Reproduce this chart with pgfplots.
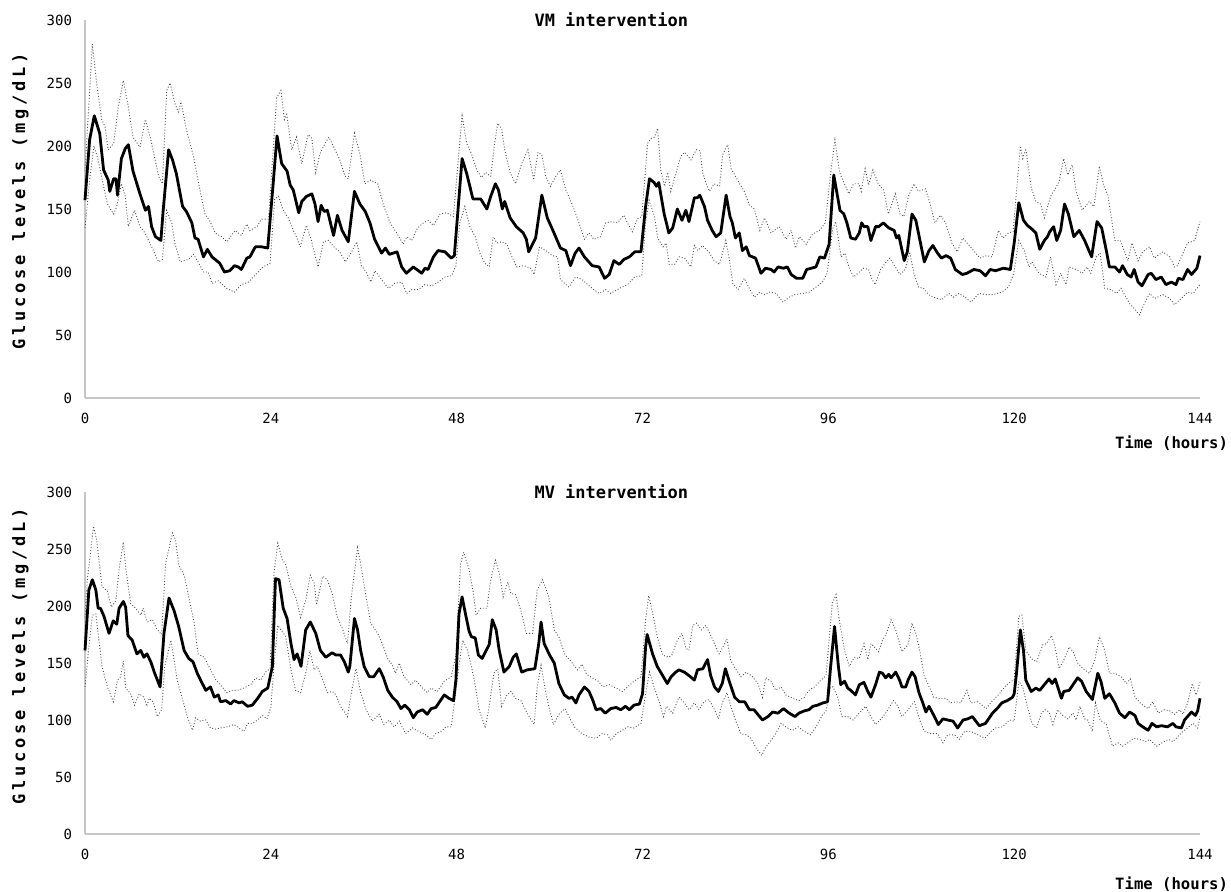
\documentclass[border=0pt]{standalone}
\usepackage{fontspec}
\setmainfont{DejaVu Sans Mono}
\usepackage{pgfplots}
\pgfplotsset{compat=1.18}
\usepackage{pgfplotstable}

% VM intervention: mean and the two bounds
\pgfplotstableread{
t g
0 157
0.6 205
1.2 224
1.9 210
2.4 181
3.0 173
3.2 164
3.7 174
4.0 174
4.2 161
4.7 190
5.2 198
5.6 201
6.2 180
7.1 162
7.8 149
8.2 152
8.6 136
9.1 128
9.8 125
10.1 149
10.8 197
11.3 189
11.8 178
12.6 152
13.1 148
13.8 139
14.2 127
14.6 126
15.3 112
15.8 118
16.4 112
17.4 107
18.0 100
18.7 101
19.3 105
19.8 104
20.2 102
20.9 111
21.3 112
22.0 120
22.8 120
23.6 119
24.3 170
24.8 208
25.4 186
26.1 180
26.5 169
26.9 165
27.6 147
28.0 156
28.6 160
29.3 162
29.7 154
30.1 140
30.5 153
30.9 148
31.3 149
32.1 129
32.6 145
33.2 133
34.0 124
34.8 164
35.5 154
36.2 148
36.8 139
37.4 126
38.3 115
38.8 119
39.3 114
40.3 116
40.9 104
41.5 99
42.4 104
43.5 99
43.9 103
44.3 102
45.0 112
45.6 117
46.5 116
47.3 111
47.7 113
48.7 190
49.3 178
50.1 158
51.1 158
51.9 150
52.4 160
53.0 170
53.4 165
53.9 150
54.2 156
54.9 143
55.7 136
56.6 131
57.0 126
57.3 116
58.2 127
59.0 161
59.7 143
60.5 132
61.4 119
62.1 117
62.7 105
63.3 115
63.8 119
64.5 112
65.5 105
66.4 104
67.1 95
67.7 98
68.3 109
69.0 106
69.6 110
70.3 112
71.0 116
71.8 116
72.4 152
72.9 174
73.5 171
73.8 168
74.1 171
74.8 146
75.4 131
75.9 135
76.5 150
77.1 141
77.6 149
78.0 140
78.7 159
79.1 159
79.4 161
80.0 152
80.4 141
81.0 133
81.5 128
82.1 131
82.8 161
83.3 144
83.6 139
84.0 127
84.5 131
84.9 117
85.4 120
85.8 113
86.6 111
87.3 99
87.9 103
88.6 102
89.0 100
89.5 104
90.2 103
90.7 104
91.2 98
91.9 95
92.7 95
93.2 102
93.8 103
94.4 104
94.9 112
95.5 111
96.1 122
96.7 177
97.5 149
98.0 146
98.4 139
98.9 127
99.5 126
100.0 131
100.3 139
100.6 136
101.1 136
101.5 125
102.1 136
102.5 136
103.1 139
103.8 135
104.5 133
104.8 127
105.1 129
105.8 109
106.2 116
106.8 146
107.3 141
107.9 123
108.4 108
109.0 117
109.5 121
110.1 115
110.6 111
111.2 113
111.8 111
112.4 102
113.3 98
113.9 99
114.8 102
115.6 101
116.3 97
116.9 102
117.6 101
118.6 103
119.5 102
120.0 123
120.6 155
121.2 141
121.7 137
122.3 134
122.8 131
123.3 118
123.9 125
124.3 128
124.6 132
125.1 136
125.5 125
126.0 133
126.5 154
127.0 146
127.7 128
128.4 133
129.1 125
130.0 112
130.7 140
131.3 135
131.9 117
132.3 104
133.0 104
133.6 100
134.0 105
134.6 98
135.1 96
135.5 102
136.0 92
136.5 89
137.3 98
137.7 99
138.3 94
139.0 96
139.6 90
140.3 92
140.9 90
141.2 95
141.8 94
142.4 102
142.9 98
143.6 103
144.0 113
}\vmmean

\pgfplotstableread{
t g
0 180
0.95 281
1.5 250
2.15 221
2.6 215
3.0 197
3.7 202
4.3 231
4.95 252
5.6 231
6.2 207
7.1 199
7.8 221
8.5 205
9.5 176
10.0 170
10.55 244
11.0 250
11.6 234
12.05 227
12.4 235
13.1 213
14.0 192
14.85 165
15.5 146
16.15 140
16.8 131
17.65 128
18.3 124
19.4 133
20.2 129
20.9 138
21.3 133
22.2 136
22.8 142
23.7 142
24.75 238
25.3 244
25.75 221
26.05 225
26.7 197
27.3 207
28.0 186
28.8 209
29.3 206
29.8 179
30.35 194
31.0 202
31.5 207
32.3 197
32.9 189
33.6 176
34.0 174
34.8 210
35.5 194
36.15 170
36.9 173
37.8 170
38.5 154
39.4 139
40.25 131
41.1 122
41.55 128
42.2 125
42.96 135
43.7 139
44.35 141
45.0 137
45.85 146
46.7 147
47.57 144
48.7 224
49.3 202
49.9 194
50.6 181
51.2 175
51.7 179
52.4 176
52.9 202
53.3 218
53.8 214
54.2 197
54.9 179
55.6 170
56.4 186
57.2 197
57.95 173
58.5 195
59.0 193
59.5 176
60.1 168
60.8 176
61.4 181
62.1 165
62.9 154
63.8 139
64.5 126
65.1 131
65.7 126
66.6 128
67.25 139
68.1 140
68.75 139
69.6 145
70.05 139
70.7 132
71.3 142
71.9 144
72.65 202
73.1 206
73.55 207
73.95 214
74.35 181
74.85 168
75.25 179
75.65 164
76.35 179
76.95 192
77.45 195
78.25 189
78.95 197
79.45 196
79.75 179
80.3 169
80.65 164
81.25 170
81.95 168
82.35 193
83.0 201
83.45 182
84.55 170
85.15 164
85.8 153
86.45 150
87.15 133
87.75 143
88.6 131
89.65 136
90.55 126
91.2 133
91.75 119
92.25 128
93.15 122
93.95 130
94.85 133
95.6 139
96.35 181
96.85 205
97.45 179
97.95 172
98.65 162
99.25 170
99.95 170
100.25 164
100.75 182
101.2 169
101.75 181
102.45 170
103.15 165
103.75 146
104.65 162
105.25 146
105.75 144
106.35 160
107.05 170
107.65 164
108.55 166
109.15 154
109.75 139
110.45 145
111.15 139
111.95 123
112.65 116
113.35 127
114.35 120
115.55 111
116.45 113
117.15 112
117.95 133
118.55 127
119.25 131
119.85 132
120.8 200
121.1 190
121.5 198
122.2 167
122.8 156
123.4 154
123.9 143
124.7 160
125.4 167
125.8 172
126.4 190
126.9 177
127.5 185
128.0 164
128.8 149
129.7 156
130.3 152
131.0 184
131.6 168
132.1 161
133.0 125
133.7 125
134.7 109
135.2 123
136.0 109
136.6 116
137.5 120
138.1 111
139.2 116
140.1 112
140.7 104
141.1 105
141.8 115
142.4 123
143.3 125
144.0 140
}\vmupper

\pgfplotstableread{
t g
0 135
0.65 176
1.16 200
1.7 189
2.4 168
2.9 154
3.7 146
4.1 152
4.7 170
5.2 160
5.6 136
6.4 149
7.1 136
7.75 131
8.6 120
9.5 108
10.0 110
10.55 149
11.2 139
11.6 123
12.3 108
13.35 110
14.0 114
14.6 108
15.3 100
15.9 100
16.4 91
17.2 93
18.3 87
19.3 84
20.2 90
21.1 92
22.2 99
23.0 104
23.9 107
24.5 158
25.0 160
25.6 149
26.25 143
26.9 133
27.3 128
27.8 120
28.6 137
29.2 126
30.1 104
30.8 124
31.4 125
32.3 119
32.9 116
33.6 108
34.35 115
35.1 124
35.7 105
36.4 99
36.9 92
37.45 101
38.3 94
39.2 87
40.0 91
40.9 92
41.55 83
42.2 86
43.05 86
43.9 90
44.8 89
45.6 92
46.5 96
47.35 97
47.9 105
48.4 139
49.05 152
49.7 136
50.4 128
51.0 115
51.65 107
52.2 104
52.7 128
53.2 123
53.8 124
54.5 122
55.15 112
55.75 104
56.7 105
57.55 103
58.0 98
58.7 120
59.5 117
60.35 113
61.0 112
61.4 94
62.5 88
63.35 96
64.2 94
65.3 88
66.4 83
67.25 86
67.9 83
69.0 87
70.05 90
71.0 96
71.9 97
72.4 139
72.85 157
73.55 144
73.95 127
74.65 120
75.05 123
75.45 106
76.15 106
76.75 112
77.45 111
78.25 104
78.7 121
79.15 117
79.75 121
80.65 115
81.25 109
81.95 106
82.75 125
83.25 109
83.65 91
84.35 86
85.15 95
85.8 87
86.45 80
87.15 84
87.75 82
88.4 84
89.25 83
90.15 76
90.95 80
91.65 82
92.65 83
93.55 84
94.4 88
95.25 92
95.85 99
96.55 134
96.95 140
97.65 112
98.15 115
98.65 104
99.25 96
100.55 103
101.2 102
101.65 94
102.05 90
102.75 102
103.35 107
103.95 111
104.65 104
105.25 98
105.95 102
106.5 116
107.05 99
107.65 88
108.3 87
108.95 82
109.55 80
110.65 78
111.55 83
112.15 80
112.85 83
113.65 80
114.4 76
115.45 83
116.45 82
117.25 82
118.4 84
119.25 88
119.95 99
120.6 125
121.3 117
121.9 104
122.3 108
123.2 99
124.1 96
124.7 112
125.4 90
126.0 99
126.7 90
127.1 104
128.0 102
128.8 99
129.4 104
129.9 99
130.6 112
131.1 115
131.7 87
132.5 86
133.2 83
133.8 87
134.9 75
135.5 71
136.2 66
136.8 75
137.5 83
138.1 79
139.2 82
140.1 79
140.7 74
141.6 79
142.4 84
143.1 83
143.6 87
144.0 90
}\vmlower

% MV intervention: mean and the two bounds
\pgfplotstableread{
t g
0 161
0.5 214
0.95 223
1.4 214
1.7 198
2.0 198
2.45 191
3.1 176
3.65 187
4.1 184
4.4 198
4.95 204
5.25 199
5.55 174
6.1 170
6.7 158
7.2 161
7.6 155
8.0 158
8.5 151
9.0 141
9.7 129
10.2 176
10.85 207
11.5 196
12.1 182
12.8 161
13.4 154
13.95 151
14.5 141
15.0 134
15.6 126
16.2 129
16.7 120
17.2 122
17.5 116
18.2 117
18.8 114
19.25 117
19.9 115
20.3 116
21.0 112
21.6 113
22.3 119
22.9 125
23.6 128
24.2 147
24.6 224
25.06 223
25.6 198
26.1 189
26.6 167
27.0 153
27.4 158
27.9 147
28.5 179
29.1 186
29.8 176
30.4 161
31.1 155
31.5 157
31.9 159
32.4 157
33.0 157
33.5 151
34.0 142
34.2 147
34.8 189
35.2 179
35.6 161
36.05 147
36.7 138
37.3 138
38.0 145
38.5 138
39.1 126
39.7 120
40.3 116
40.8 110
41.3 113
41.9 109
42.4 102
42.9 107
43.6 109
44.2 105
44.7 110
45.3 111
45.7 115
46.4 122
47.0 119
47.6 117
47.9 135
48.3 193
48.7 208
49.2 191
49.6 178
49.9 173
50.4 172
50.8 157
51.3 154
51.8 161
52.2 166
52.6 188
53.1 179
53.5 161
54.1 142
54.8 147
55.3 155
55.7 158
56.4 142
57.1 144
58.1 145
58.6 167
58.9 186
59.3 167
60.0 157
60.6 150
61.2 132
61.9 122
62.5 119
62.9 120
63.4 115
63.8 122
64.5 129
65.1 125
65.6 117
66.0 109
66.6 110
67.2 106
67.9 110
68.6 111
69.2 109
69.8 112
70.3 109
70.9 113
71.6 114
72.0 123
72.4 164
72.6 175
73.3 158
73.9 147
74.6 139
75.2 132
75.7 138
76.3 142
76.7 144
77.4 142
78.0 139
78.7 135
79.1 144
79.8 145
80.4 153
80.8 139
81.3 129
81.8 125
82.3 132
82.7 145
83.2 134
83.9 120
84.5 116
85.2 116
85.8 109
86.4 109
87.0 104
87.5 100
88.2 103
88.8 107
89.5 106
90.2 110
90.95 106
91.7 103
92.2 106
92.9 108
93.5 109
94.0 112
94.6 113
95.3 115
95.9 116
96.3 147
96.8 182
97.3 147
97.6 131
98.1 134
98.5 128
98.9 126
99.5 122
100.0 131
100.6 133
101.1 125
101.5 120
102.1 131
102.6 142
103.0 141
103.4 137
103.8 140
104.1 137
104.7 142
105.2 135
105.5 129
106.0 129
106.3 135
106.8 142
107.2 138
107.7 124
108.2 115
108.6 107
109.0 112
109.7 103
110.2 96
110.8 101
111.4 100
112.1 99
112.7 93
113.4 100
114.0 101
114.6 103
115.5 95
116.3 97
117.2 106
117.8 110
118.4 115
119.1 117
119.8 120
120.0 123
120.3 141
120.8 179
121.2 161
121.5 135
122.2 125
122.8 128
123.3 126
123.9 131
124.5 136
124.9 132
125.3 136
126.1 119
126.4 125
127.1 126
127.6 131
128.2 137
128.7 134
129.3 125
130.1 118
130.8 141
131.2 134
131.7 119
132.3 123
133.0 115
133.6 106
134.3 102
134.9 107
135.6 104
136.0 97
136.6 94
137.3 91
137.8 97
138.4 94
139.0 95
139.8 94
140.5 97
140.9 94
141.6 93
142.0 100
142.9 107
143.4 104
143.7 108
144.0 119
}\mvmean

\pgfplotstableread{
t g
0 190
0.3 223
1.1 270
1.5 258
2.2 217
2.9 213
3.4 199
4.0 205
4.4 232
4.95 256
5.25 234
5.9 202
6.55 198
7.2 192
7.5 198
8.05 186
8.7 188
9.35 179
9.9 175
10.4 237
11.3 264
11.7 258
12.1 236
12.8 227
13.4 208
14.1 185
14.6 158
15.4 155
16.0 147
16.9 135
17.5 131
18.3 124
19.0 126
19.7 126
20.5 128
21.4 131
22.05 137
22.7 135
23.3 142
23.9 145
24.4 229
24.9 255
25.5 240
25.9 237
26.6 217
27.2 208
27.85 190
28.5 205
29.1 227
29.6 220
29.9 201
30.7 226
31.3 223
31.95 210
32.6 190
33.3 179
33.9 167
34.4 208
35.2 251
35.6 237
36.3 208
36.9 185
37.8 176
38.4 167
39.07 154
39.7 148
40.1 141
40.6 150
41.2 138
42.1 131
42.7 135
43.6 128
44.2 124
44.7 128
45.5 125
46.4 134
47.3 138
47.9 157
48.5 237
48.9 247
49.6 232
50.1 214
50.5 192
51.1 198
51.9 198
52.4 223
53.0 240
53.5 229
54.0 208
54.6 221
55.0 211
55.6 210
56.3 196
57.0 176
57.8 176
58.4 214
59.1 223
59.9 208
60.6 179
61.2 173
62.0 157
62.7 152
63.6 144
64.2 149
64.8 140
65.5 137
66.3 134
66.9 129
67.7 131
68.6 128
69.4 125
70.07 129
70.9 134
71.8 138
72.4 188
72.8 209
73.3 194
73.9 173
74.6 157
75.4 155
75.8 157
76.5 170
77.1 176
77.6 163
78.0 161
78.5 183
79.0 185
79.6 179
80.2 183
80.7 176
81.3 167
81.9 158
82.3 163
82.9 171
83.4 152
84.0 145
84.7 138
85.4 142
86.2 138
86.9 132
87.5 120
87.9 137
88.6 134
89.2 126
89.9 129
90.5 122
91.4 119
92.2 117
92.9 120
93.5 126
94.2 129
95.05 135
95.7 139
96.5 202
97.0 210
97.4 188
98.06 162
98.7 147
99.35 155
99.99 154
100.6 167
101.1 153
101.5 167
102.5 160
103.0 170
103.5 176
104.1 188
104.7 179
105.5 160
106.3 166
106.8 185
107.3 176
107.8 161
108.4 138
109.04 129
109.6 120
110.3 119
111.2 119
111.7 115
112.5 116
113.1 115
113.9 126
114.4 115
115.3 116
116.4 110
117.2 117
118.1 123
118.9 130
119.6 134
120.0 135
120.6 191
121.0 192
121.5 161
122.2 154
122.9 151
123.7 166
124.2 167
124.8 174
125.2 167
125.8 145
126.3 151
127.1 164
127.6 160
128.2 150
128.9 145
129.7 141
130.4 152
131.0 173
131.7 161
132.3 141
133.0 141
133.8 138
134.5 132
135.0 136
135.6 120
136.4 114
137.3 110
137.9 116
138.6 106
139.4 109
140.1 108
140.7 105
141.4 109
141.8 105
142.4 115
143.0 132
143.5 122
144.0 133
}\mvupper

\pgfplotstableread{
t g
0 129
0.5 164
0.95 192
1.4 193
1.8 170
2.2 147
2.9 129
3.66 116
4.2 135
4.6 138
4.95 152
5.25 128
5.9 123
6.4 113
7.0 123
7.6 120
7.97 112
8.3 119
8.8 116
9.35 103
9.9 109
10.3 147
11.1 170
11.5 153
11.9 135
12.6 118
13.2 103
13.9 91
14.3 102
14.9 99
15.6 100
16.2 93
16.9 92
17.5 93
18.4 94
19.25 96
19.9 93
20.5 90
21.0 97
21.6 97
22.3 100
22.9 104
23.5 101
24.0 111
24.4 147
24.9 183
25.5 177
25.9 174
26.6 144
27.2 126
27.85 124
28.5 141
29.05 161
29.6 144
30.0 147
30.7 135
31.3 124
31.95 125
32.4 122
33.0 112
33.9 103
34.4 124
35.0 145
35.6 124
36.3 109
37.1 99
38.0 105
38.6 96
39.3 100
39.9 94
40.6 99
41.4 88
42.3 93
43.1 90
43.8 88
44.7 83
45.3 88
46.0 90
46.6 94
47.3 94
47.9 126
48.5 158
48.8 170
49.4 161
49.8 150
50.3 134
50.9 109
51.7 93
52.2 112
52.8 141
53.3 145
53.8 112
54.4 121
55.0 125
55.6 119
56.3 117
57.1 106
58.0 96
58.4 129
58.9 148
59.5 124
60.0 109
60.5 96
61.2 105
62.0 110
62.5 103
63.2 94
64.2 88
65.1 85
66.0 84
66.8 88
67.5 87
67.9 82
68.6 88
69.4 91
70.07 94
70.9 93
71.8 97
72.4 123
72.9 142
73.5 129
74.2 115
74.7 103
75.1 112
75.9 106
76.7 120
77.4 115
78.0 109
78.7 115
79.3 109
79.95 116
80.6 118
81.3 109
81.8 101
82.3 115
82.9 124
83.4 112
84.0 100
84.7 88
85.4 87
86.0 84
86.7 75
87.4 69
87.9 76
88.6 82
89.2 88
89.9 97
90.7 93
91.4 91
92.1 94
92.9 90
93.7 87
94.4 94
95.2 104
95.7 108
96.3 129
96.6 129
97.2 120
97.75 103
98.5 103
99.2 100
100.0 106
100.8 112
101.5 103
102.1 96
102.8 101
103.4 106
104.4 117
105.0 112
105.5 103
106.3 109
107.1 116
107.8 100
108.4 90
109.3 88
110.1 88
110.8 80
111.4 87
112.3 87
112.9 83
113.6 90
114.4 90
115.3 87
116.2 84
117.0 90
117.6 93
118.5 94
119.4 100
120.0 99
120.6 134
121.1 129
121.7 112
122.3 97
122.9 93
123.5 106
124.0 109
124.5 107
125.0 96
125.6 109
126.3 104
126.9 101
127.6 106
128.0 100
128.5 112
129.1 101
129.5 100
130.1 90
130.5 115
131.1 100
131.9 96
132.7 77
133.4 80
134.0 77
134.7 80
135.4 84
136.2 83
137.0 81
137.5 83
138.4 77
139.1 80
139.9 83
140.5 81
141.2 86
141.8 90
142.4 93
143.1 97
143.7 93
144.0 103
}\mvlower

\pgfplotsset{
  glucose/.style={
    scale only axis,
    width=557.5pt,
    xmin=0, xmax=144, ymin=0, ymax=300,
    xtick={0,24,...,144},
    ytick={0,50,...,300},
    axis x line=bottom,
    axis y line=left,
    axis line style={-, draw=gray!45, line width=0.7pt},
    major tick length=0pt,
    /pgf/number format/assume math mode=true,
    tick label style={font=\fontsize{7}{8}\selectfont},
    xticklabel style={yshift=-4pt},
    yticklabel style={xshift=-3pt},
    every axis title shift=0pt,
    title style={at={(axis description cs:0.472,1)}, anchor=center,
      font=\bfseries\fontsize{8.5}{10}\selectfont},
    ylabel={Glucose levels (mg/dL)},
    ylabel style={at={(axis description cs:-0.058,0.52)}, anchor=center,
      font=\bfseries\fontsize{8.5}{10}\selectfont\addfontfeature{LetterSpace=22}},
    xlabel={Time (hours)},
    xlabel style={at={(axis description cs:1,0)}, anchor=east, xshift=17.5pt,
      font=\bfseries\fontsize{7.8}{9}\selectfont},
    clip=false,
  },
  meanline/.style={black, line width=1.4pt, line join=round},
  bandline/.style={black!70, densely dotted, line width=0.45pt},
}

\begin{document}
\begin{tikzpicture}
\useasboundingbox (-42.5pt,-247pt) rectangle (573pt,199pt);

\begin{axis}[glucose, height=189pt, at={(0,0)}, anchor=south west,
  title={VM intervention}, xlabel style={yshift=-22.5pt}]
  \addplot[bandline] table[x=t, y=g] {\vmupper};
  \addplot[bandline] table[x=t, y=g] {\vmlower};
  \addplot[meanline] table[x=t, y=g] {\vmmean};
\end{axis}

\begin{axis}[glucose, height=171pt, at={(0,-47pt)}, anchor=north west,
  title={MV intervention}, xlabel style={yshift=-25pt}]
  \addplot[bandline] table[x=t, y=g] {\mvupper};
  \addplot[bandline] table[x=t, y=g] {\mvlower};
  \addplot[meanline] table[x=t, y=g] {\mvmean};
\end{axis}
\end{tikzpicture}
\end{document}
